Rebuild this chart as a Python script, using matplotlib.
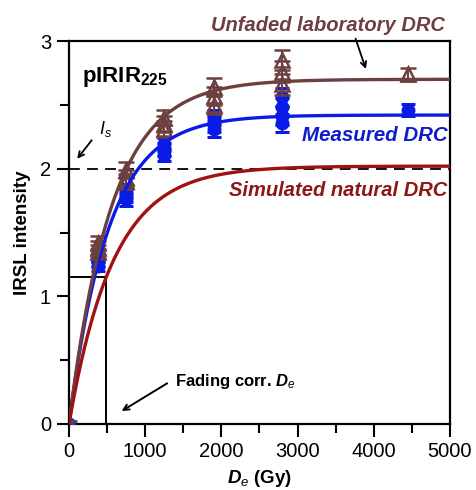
import numpy as np
import matplotlib
matplotlib.use("Agg")
from matplotlib import pyplot as plt
from matplotlib.ticker import MultipleLocator

plt.rcParams['font.family'] = ['Liberation Sans', 'DejaVu Sans']
plt.rcParams['mathtext.fontset'] = 'custom'
plt.rcParams['mathtext.rm'] = 'Liberation Sans'
plt.rcParams['mathtext.it'] = 'Liberation Sans:italic'
plt.rcParams['mathtext.bf'] = 'Liberation Sans:bold'
plt.rcParams['mathtext.bfit'] = 'Liberation Sans:bold:italic'

# unfaded laboratory dose points (Gy, intensity, error)
unf_dose = [0, 380, 380, 380, 750, 750, 750, 1250, 1250, 1250,
            1900, 1900, 1900, 2800, 2800, 2800, 4450]
unf_val = [0.00, 1.42, 1.38, 1.35, 1.99, 1.93, 1.90, 2.40, 2.35, 2.31,
           2.64, 2.57, 2.50, 2.85, 2.76, 2.66, 2.74]
unf_err = [0.02, 0.05, 0.05, 0.05, 0.06, 0.06, 0.06, 0.06, 0.06, 0.06,
           0.07, 0.07, 0.07, 0.08, 0.08, 0.08, 0.05]

# measured points
mea_dose = [0, 380, 380, 380, 750, 750, 750, 1250, 1250, 1250,
            1900, 1900, 1900, 2800, 2800, 2800, 2800, 4450]
mea_val = [0.00, 1.31, 1.27, 1.24, 1.83, 1.79, 1.76, 2.19, 2.15, 2.11,
           2.40, 2.35, 2.31, 2.56, 2.48, 2.41, 2.36, 2.46]
mea_err = [0.02, 0.04, 0.04, 0.04, 0.05, 0.05, 0.05, 0.05, 0.05, 0.05,
           0.06, 0.06, 0.06, 0.07, 0.07, 0.07, 0.07, 0.05]

# saturating exponential fits: I = A * (1 - exp(-D / D0))
fit_unfaded = (2.70, 560.0)
fit_measured = (2.42, 520.0)
fit_natural = (2.02, 580.0)
i_sat = 2.0
de_corr = 490.0

brown = '#6e3f3f'
blue = '#0a1be6'
red = '#a01212'


def drc(d, params):
  a, d0 = params
  return a * (1 - np.exp(-d / d0))


fig = plt.figure(figsize=(4.76, 4.90), dpi=100)
ax = fig.add_axes([0.145, 0.1347, 0.8, 0.7816])

d = np.linspace(0, 5000, 500)

ax.axhline(i_sat, color='black', lw=1.3, ls=(0, (6, 4)), zorder=1)

ax.errorbar(mea_dose, mea_val, yerr=mea_err, fmt='o', color=blue, ms=9,
            capsize=5, elinewidth=1.5, capthick=2.2, zorder=3)
ax.errorbar(unf_dose, unf_val, yerr=unf_err, fmt='^', color=brown, mfc='none',
            mew=1.8, ms=10, capsize=6, elinewidth=1.5, capthick=2.2, zorder=4)

ax.plot(d, drc(d, fit_measured), color=blue, lw=2.4, zorder=5)
ax.plot(d, drc(d, fit_unfaded), color=brown, lw=2.4, zorder=5)
ax.plot(d, drc(d, fit_natural), color=red, lw=2.4, zorder=6)

i_corr = drc(de_corr, fit_natural)
ax.plot([0, de_corr], [i_corr, i_corr], color='black', lw=1.4, zorder=2)
ax.plot([de_corr, de_corr], [0, i_corr], color='black', lw=1.4, zorder=2)

ax.set_xlim(0, 5000)
ax.set_ylim(0, 3)
ax.xaxis.set_major_locator(MultipleLocator(1000))
ax.xaxis.set_minor_locator(MultipleLocator(500))
ax.yaxis.set_major_locator(MultipleLocator(1))
ax.yaxis.set_minor_locator(MultipleLocator(0.5))
ax.tick_params(which='major', direction='out', length=9, width=1.5,
               labelsize=14.5, pad=4)
ax.tick_params(which='minor', direction='out', length=6.5, width=1.5)
for s in ax.spines.values():
  s.set_linewidth(1.6)

ax.set_ylabel('IRSL intensity', fontsize=13.5, fontweight='bold', labelpad=6)
ax.set_xlabel(r'$\mathbfit{D}_\mathit{e}$ (Gy)', fontsize=13.5,
              fontweight='bold', labelpad=5)

ax.text(170, 2.68, r'$\mathbf{pIRIR}_{\mathbf{225}}$', fontsize=16)
ax.text(400, 2.27, r'$I_s$', fontsize=13)
ax.annotate('', xy=(85, 2.06), xytext=(320, 2.24),
            arrowprops=dict(arrowstyle='->', color='black', lw=1.3))

ax.text(3400, 3.12, 'Unfaded laboratory DRC', color=brown, fontsize=14.5,
        fontweight='bold', fontstyle='italic', ha='center', va='center')
ax.annotate('', xy=(3910, 2.76), xytext=(3750, 3.04),
            arrowprops=dict(arrowstyle='->', color='black', lw=1.3))
ax.text(4970, 2.26, 'Measured DRC', color='#0d1ec8', fontsize=14.8,
        fontweight='bold', fontstyle='italic', ha='right', va='center')
ax.text(4970, 1.83, 'Simulated natural DRC', color='#8e1616', fontsize=14.5,
        fontweight='bold', fontstyle='italic', ha='right', va='center')

ax.text(1390, 0.33, r'Fading corr. $\mathbfit{D}_\mathit{e}$', fontsize=12,
        fontweight='bold', va='center')
ax.annotate('', xy=(660, 0.09), xytext=(1320, 0.33),
            arrowprops=dict(arrowstyle='->', color='black', lw=1.4))

fig.savefig('out.png', dpi=100)
